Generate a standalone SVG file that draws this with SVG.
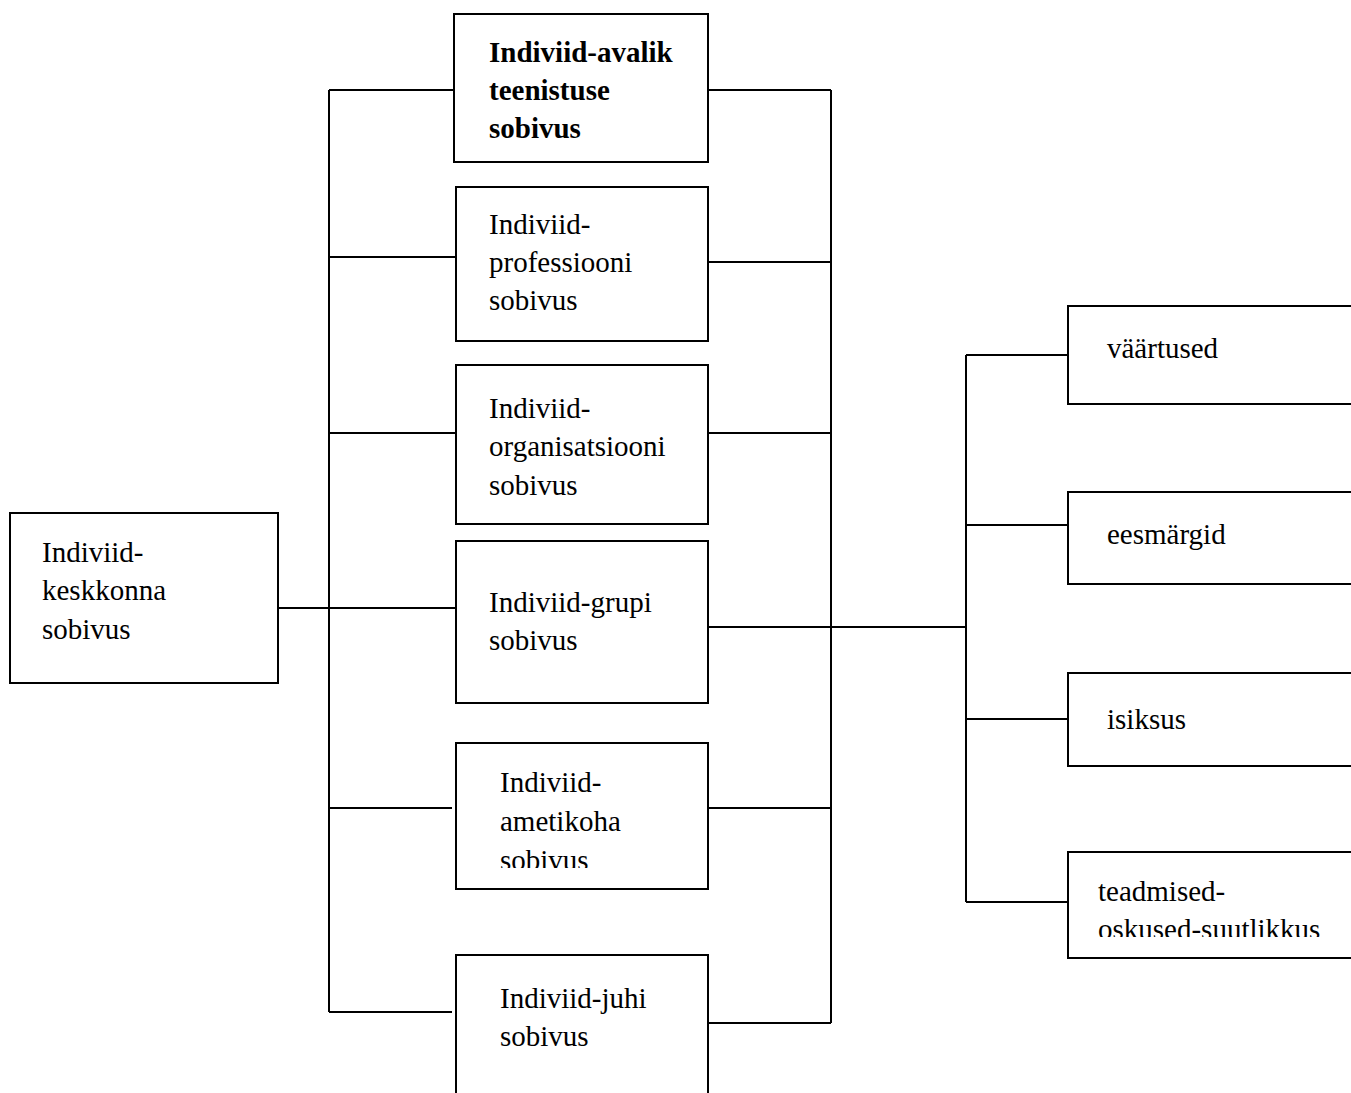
<svg xmlns="http://www.w3.org/2000/svg" width="1351" height="1093" viewBox="0 0 1351 1093">
<style>
.box{fill:#fff;stroke:#000;stroke-width:2}
.t{font-family:"Liberation Serif","Times New Roman",serif;font-size:29px;fill:#000}
.b{font-weight:bold}
.c{fill:none;stroke:#000;stroke-width:2}
</style>
<defs>
<clipPath id="clip5"><rect x="456" y="743" width="252" height="125"/></clipPath>
<clipPath id="clipR4"><rect x="1068" y="852" width="300" height="85"/></clipPath>
</defs>
<rect width="1351" height="1093" fill="#fff"/>
<g id="connectors">
<path class="c" d="M329 90V1012M329 90H454M329 257H456M329 433H456M278 608H458M329 808H452M329 1012H452"/>
<path class="c" d="M831 90V1023M708 90H831M708 262H831M708 433H831M708 627H966M708 808H831M708 1023H831"/>
<path class="c" d="M966 355V902M966 355H1068M966 525H1068M966 719H1068M966 902H1068"/>
</g>
<g id="n-avalik">
<rect class="box" x="454" y="14" width="254" height="148"/>
<text class="t b" x="489" y="62">Indiviid-avalik</text>
<text class="t b" x="489" y="100">teenistuse</text>
<text class="t b" x="489" y="138">sobivus</text>
</g>
<g id="n-professioon">
<rect class="box" x="456" y="187" width="252" height="154"/>
<text class="t" x="489" y="234">Indiviid-</text>
<text class="t" x="489" y="272">professiooni</text>
<text class="t" x="489" y="310">sobivus</text>
</g>
<g id="n-organisatsioon">
<rect class="box" x="456" y="365" width="252" height="159"/>
<text class="t" x="489" y="418">Indiviid-</text>
<text class="t" x="489" y="456">organisatsiooni</text>
<text class="t" x="489" y="495">sobivus</text>
</g>
<g id="n-grupp">
<rect class="box" x="456" y="541" width="252" height="162"/>
<text class="t" x="489" y="612">Indiviid-grupi</text>
<text class="t" x="489" y="650">sobivus</text>
</g>
<g id="n-ametikoht">
<rect class="box" x="456" y="743" width="252" height="146"/>
<g clip-path="url(#clip5)">
<text class="t" x="500" y="792">Indiviid-</text>
<text class="t" x="500" y="831">ametikoha</text>
<text class="t" x="500" y="870">sobivus</text>
</g>
</g>
<g id="n-juht">
<rect class="box" x="456" y="955" width="252" height="160"/>
<text class="t" x="500" y="1008">Indiviid-juhi</text>
<text class="t" x="500" y="1046">sobivus</text>
</g>
<g id="n-keskkond">
<rect class="box" x="10" y="513" width="268" height="170"/>
<text class="t" x="42" y="562">Indiviid-</text>
<text class="t" x="42" y="600">keskkonna</text>
<text class="t" x="42" y="639">sobivus</text>
</g>
<g id="n-vaartused">
<rect class="box" x="1068" y="306" width="300" height="98"/>
<text class="t" x="1107" y="358">väärtused</text>
</g>
<g id="n-eesmargid">
<rect class="box" x="1068" y="492" width="300" height="92"/>
<text class="t" x="1107" y="544">eesmärgid</text>
</g>
<g id="n-isiksus">
<rect class="box" x="1068" y="673" width="300" height="93"/>
<text class="t" x="1107" y="729">isiksus</text>
</g>
<g id="n-teadmised">
<rect class="box" x="1068" y="852" width="300" height="106"/>
<g clip-path="url(#clipR4)">
<text class="t" x="1098" y="901">teadmised-</text>
<text class="t" x="1098" y="939">oskused-suutlikkus</text>
</g>
</g>
</svg>
